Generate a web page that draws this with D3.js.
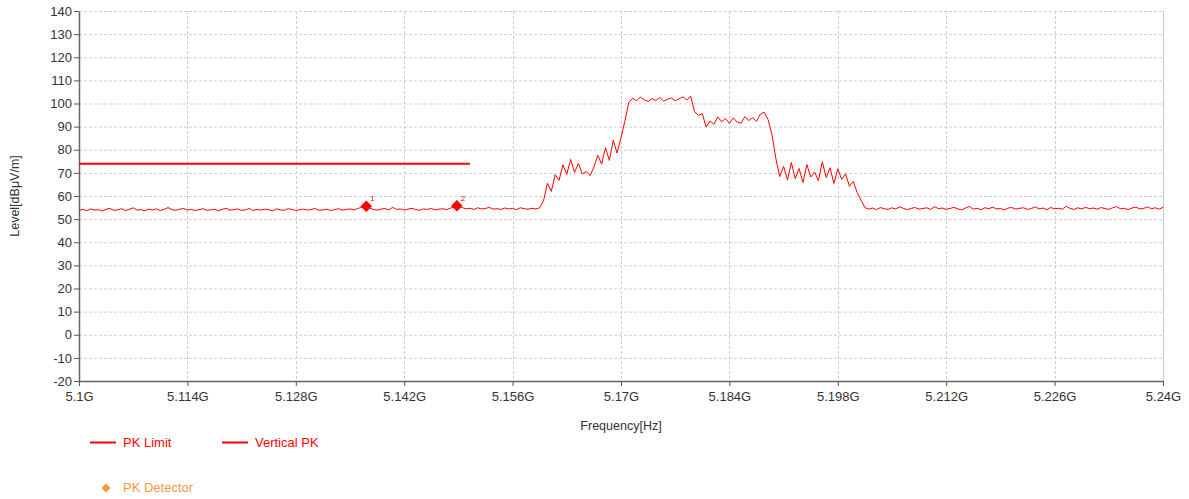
<!DOCTYPE html>
<html>
<head>
<meta charset="utf-8">
<script src="https://cdn.jsdelivr.net/npm/d3@7"></script>
<style>
  body { margin: 0; background: #fff; }
  text { font-family: "Liberation Sans", Arial, sans-serif; }
</style>
</head>
<body>
<div id="chart"></div>
<script>
/* DATA */
// sweep: start frequency and step in GHz, one level per step
const sweepStart = 5.1,
  sweepStep = 0.0005;

// Vertical PK trace, dBµV/m
const verticalPK = [
  53.8,54.2,53.6,54.4,53.9,54.1,53.5,54.3,54.6,53.8,54.0,54.5,53.7,54.2,54.9,53.9,54.1,53.6,54.3,54.0,
  54.4,53.7,54.2,55.0,54.1,53.8,54.3,54.6,53.9,54.2,53.7,54.1,54.5,53.8,54.0,54.3,53.6,54.2,54.7,53.9,
  54.1,54.4,53.8,54.0,54.6,53.7,54.2,53.9,54.3,54.1,53.6,54.4,54.0,53.8,54.5,54.2,53.7,54.1,54.3,53.9,
  54.2,54.6,53.8,54.0,54.3,53.7,54.1,54.5,53.9,54.2,54.4,54.0,54.6,55.1,55.4,54.8,54.2,53.9,54.3,54.6,
  54.0,55.1,54.2,54.4,53.9,54.3,54.7,54.1,53.8,54.4,54.2,54.6,54.0,54.3,54.5,54.1,54.8,55.2,55.6,55.0,
  54.4,54.7,54.2,54.9,54.4,54.6,55.1,54.3,54.5,54.2,54.8,54.4,54.6,54.1,54.9,54.5,54.3,54.7,54.4,54.9,
  // rising edge
  58.0,65.5,62.0,69.2,66.8,73.5,69.4,75.8,70.2,74.1,69.5,70.6,68.8,72.5,77.6,73.8,80.9,75.4,84.1,78.6,
  85.2,92.3,
  // top plateau
  100.4,102.3,101.1,102.8,101.6,100.9,102.1,101.3,102.6,101.0,101.8,102.4,101.2,102.0,102.9,101.5,103.2,
  // step down
  96.5,94.8,95.6,89.8,92.4,91.0,94.2,92.1,93.5,91.4,
  93.8,92.0,91.5,94.3,92.6,93.9,92.3,95.4,96.2,93.0,
  86.5,76.2,68.4,72.8,66.9,74.5,67.5,71.9,65.8,73.6,
  68.2,70.4,66.6,74.8,68.0,72.2,65.4,71.8,67.2,69.6,
  64.2,66.3,61.5,58.2,55.0,
  // noise floor
  54.3,54.8,54.1,55.0,54.5,54.2,54.9,54.4,55.3,54.6,54.1,54.7,55.0,54.3,54.6,54.9,54.2,55.4,54.5,54.8,
  54.2,54.6,55.1,54.4,54.0,54.8,55.5,54.3,54.7,54.1,54.9,54.5,55.2,54.4,54.6,54.0,54.8,55.0,54.3,54.7,
  54.9,54.2,54.6,55.3,54.4,54.8,54.1,55.0,54.5,54.7,54.3,55.6,54.6,54.2,54.9,54.4,55.1,54.5,54.8,54.3,
  55.0,54.6,54.2,54.9,55.4,54.5,54.7,54.1,54.8,55.2,54.4,54.6,55.3,54.5,54.9,54.3,55.1
];

// PK Limit segment
const limitFreqs = [5.1, 5.1505];
const limitLevels = [74, 74];

// PK Detector markers
const markerIds = ["1", "2"];
const markerFreqs = [5.1371, 5.1488];
const markerLevels = [55.6, 55.8];

// ticks
const xTicks = [5.1, 5.114, 5.128, 5.142, 5.156, 5.17, 5.184, 5.198, 5.212, 5.226, 5.24];
const xTickLabels = ["5.1G", "5.114G", "5.128G", "5.142G", "5.156G", "5.17G", "5.184G", "5.198G", "5.212G", "5.226G", "5.24G"];
const yTicks = [-20, -10, 0, 10, 20, 30, 40, 50, 60, 70, 80, 90, 100, 110, 120, 130, 140];

const legendItems = ["PK Limit", "Vertical PK", "PK Detector"];

/* LAYOUT */
const width = 1189,
  height = 499,
  margin = { top: 11, right: 26, bottom: 118, left: 79 };

const red = "#ff0000",
  orange = "#f79646",
  textColor = "#333";

const svg = d3.select("#chart")
  .append("svg")
  .attr("width", width)
  .attr("height", height);

const xScale = d3.scaleLinear()
  .domain([5.1, 5.24])
  .range([margin.left, width - margin.right]);

const yScale = d3.scaleLinear()
  .domain([-20, 140])
  .range([height - margin.bottom, margin.top]);

const plotBottom = height - margin.bottom;
const plotRight = width - margin.right;

// grid
svg.append("g")
  .selectAll("line")
  .data(yTicks)
  .join("line")
  .attr("x1", margin.left)
  .attr("x2", plotRight)
  .attr("y1", d => yScale(d) + 0.5)
  .attr("y2", d => yScale(d) + 0.5)
  .attr("stroke", "#cfcfcf")
  .attr("stroke-dasharray", "3,2");

svg.append("g")
  .selectAll("line")
  .data(xTicks.slice(1, -1))
  .join("line")
  .attr("x1", d => Math.round(xScale(d)) + 0.5)
  .attr("x2", d => Math.round(xScale(d)) + 0.5)
  .attr("y1", margin.top)
  .attr("y2", plotBottom)
  .attr("stroke", "#cfcfcf")
  .attr("stroke-dasharray", "3,2");

// right border
svg.append("line")
  .attr("x1", plotRight + 0.5)
  .attr("x2", plotRight + 0.5)
  .attr("y1", margin.top)
  .attr("y2", plotBottom)
  .attr("stroke", "#c8c8c8");

// axes
const xAxis = d3.axisBottom(xScale)
  .tickValues(xTicks)
  .tickFormat((d, i) => xTickLabels[i])
  .tickSize(5)
  .tickSizeOuter(0)
  .tickPadding(6);

const yAxis = d3.axisLeft(yScale)
  .tickValues(yTicks)
  .tickFormat(d => d)
  .tickSize(5)
  .tickSizeOuter(0)
  .tickPadding(2);

const xAxisGroup = svg.append("g")
  .attr("transform", `translate(0, ${plotBottom})`)
  .call(xAxis);

const yAxisGroup = svg.append("g")
  .attr("transform", `translate(${margin.left}, 0)`)
  .call(yAxis);

[xAxisGroup, yAxisGroup].forEach(g => {
  g.select(".domain").attr("stroke", "#666").attr("stroke-width", 1.5);
  g.selectAll(".tick line").attr("stroke", "#555");
  g.selectAll(".tick text")
    .attr("fill", textColor)
    .style("font-size", "13px");
});

// axis titles
svg.append("text")
  .attr("x", (margin.left + plotRight) / 2)
  .attr("y", 430)
  .attr("text-anchor", "middle")
  .attr("fill", textColor)
  .style("font-size", "12.5px")
  .text("Frequency[Hz]");

svg.append("text")
  .attr("transform", `translate(19, ${(margin.top + plotBottom) / 2}) rotate(-90)`)
  .attr("text-anchor", "middle")
  .attr("fill", textColor)
  .style("font-size", "12.5px")
  .text("Level[dBμV/m]");

// traces
const line = d3.line()
  .x(d => xScale(d[0]))
  .y(d => yScale(d[1]));

const traceData = verticalPK.map((v, i) => [sweepStart + i * sweepStep, v]);

svg.append("path")
  .datum(traceData)
  .attr("fill", "none")
  .attr("stroke", red)
  .attr("stroke-width", 1)
  .attr("d", line);

svg.append("path")
  .datum(limitFreqs.map((f, i) => [f, limitLevels[i]]))
  .attr("fill", "none")
  .attr("stroke", red)
  .attr("stroke-width", 2)
  .attr("d", line);

// detector markers
const diamond = d3.symbol().type(d3.symbolSquare).size(66);

const markers = svg.append("g")
  .selectAll("g")
  .data(markerIds.map((id, i) => ({ id, f: markerFreqs[i], v: markerLevels[i] })))
  .join("g")
  .attr("transform", d => `translate(${xScale(d.f)}, ${yScale(d.v)})`);

markers.append("path")
  .attr("d", diamond)
  .attr("transform", "rotate(45)")
  .attr("fill", red);

markers.append("text")
  .attr("x", 4)
  .attr("y", -5)
  .attr("fill", red)
  .style("font-size", "8px")
  .text(d => d.id);

// legend
const legend = svg.append("g");

legend.append("line")
  .attr("x1", 90).attr("x2", 116)
  .attr("y1", 442.5).attr("y2", 442.5)
  .attr("stroke", red).attr("stroke-width", 2);
legend.append("text")
  .attr("x", 123).attr("y", 447)
  .attr("fill", red)
  .style("font-size", "13px")
  .text(legendItems[0]);

legend.append("line")
  .attr("x1", 222).attr("x2", 248)
  .attr("y1", 442.5).attr("y2", 442.5)
  .attr("stroke", red).attr("stroke-width", 2);
legend.append("text")
  .attr("x", 255).attr("y", 447)
  .attr("fill", red)
  .style("font-size", "13px")
  .text(legendItems[1]);

legend.append("path")
  .attr("d", d3.symbol().type(d3.symbolSquare).size(40))
  .attr("transform", "translate(106, 488) rotate(45)")
  .attr("fill", orange);
legend.append("text")
  .attr("x", 123).attr("y", 492)
  .attr("fill", orange)
  .style("font-size", "13px")
  .text(legendItems[2]);
</script>
</body>
</html>
